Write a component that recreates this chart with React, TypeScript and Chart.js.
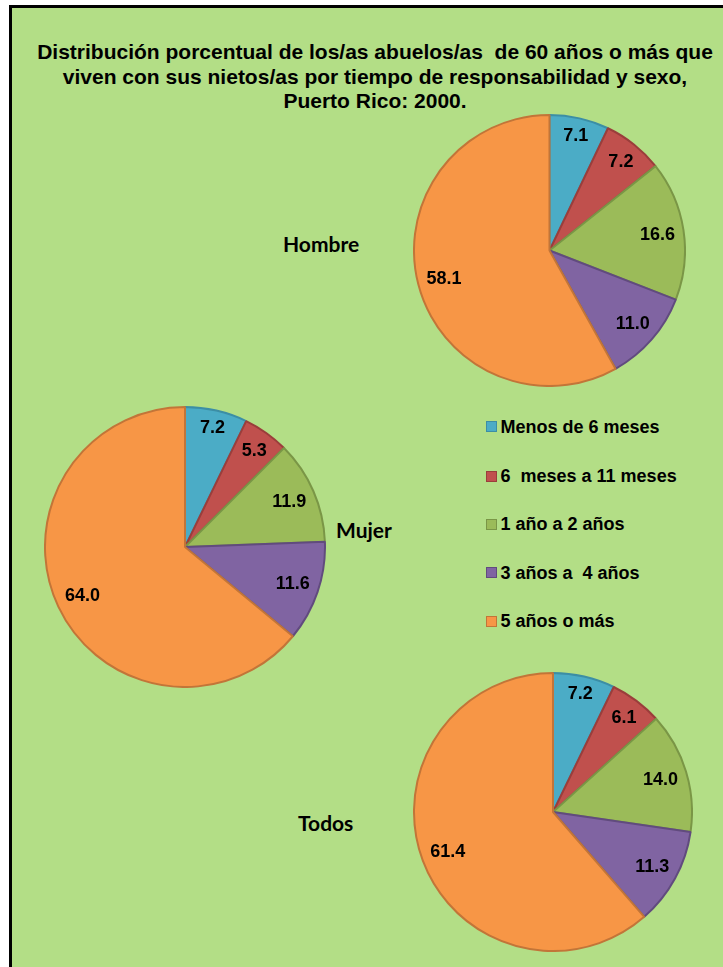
import React, { useEffect, useRef } from "react";
import { Chart, registerables } from "chart.js";

Chart.register(...registerables);

// ---- Data ----
const categories = [
  "Menos de 6 meses",
  "6  meses a 11 meses",
  "1 año a 2 años",
  "3 años a  4 años",
  "5 años o más",
];
const hombreValues = [7.1, 7.2, 16.6, 11.0, 58.1];
const mujerValues = [7.2, 5.3, 11.9, 11.6, 64.0];
const todosValues = [7.2, 6.1, 14.0, 11.3, 61.4];
const seriesNames = ["Hombre", "Mujer", "Todos"];
const titleLines = [
  "Distribución porcentual de los/as abuelos/as  de 60 años o más que",
  "viven con sus nietos/as por tiempo de responsabilidad y sexo,",
  "Puerto Rico: 2000.",
];

// ---- Styles ----
const fillColors = ["#4BACC6", "#C0504D", "#9BBB59", "#8064A2", "#F79646"];
const borderColors = ["#3C8EA5", "#9A3E3B", "#7A9646", "#614B7E", "#C27538"];
const bgGreen = "#B3DE86";
const labelFont = 'bold 18px "Liberation Sans", Arial, sans-serif';

const dataLabelPlugin = {
  id: "dataLabels",
  afterDatasetsDraw(chart: any) {
    const ctx = chart.ctx;
    const meta = chart.getDatasetMeta(0);
    const values = chart.data.datasets[0].data as number[];
    ctx.save();
    ctx.font = labelFont;
    ctx.fillStyle = "#000";
    ctx.textAlign = "center";
    ctx.textBaseline = "middle";
    meta.data.forEach((arc: any, i: number) => {
      const p = arc.getProps(["x", "y", "startAngle", "endAngle", "outerRadius"], true);
      const mid = (p.startAngle + p.endAngle) / 2;
      const txt = values[i].toFixed(1);
      const w = ctx.measureText(txt).width;
      const h = 13;
      const ux = Math.cos(mid);
      const uy = Math.sin(mid);
      const extent = Math.abs(ux) * w / 2 + Math.abs(uy) * h / 2;
      const d = p.outerRadius + 1 - 9 - extent;
      ctx.fillText(txt, p.x + d * ux, p.y + d * uy + 1);
    });
    ctx.restore();
  },
};

function Pie({ values, left, top, size }: { values: number[]; left: number; top: number; size: number }) {
  const ref = useRef<HTMLCanvasElement | null>(null);
  useEffect(() => {
    if (!ref.current) return;
    const chart = new Chart(ref.current, {
      type: "pie",
      data: {
        labels: categories,
        datasets: [
          {
            data: values,
            backgroundColor: fillColors,
            borderColor: borderColors,
            borderWidth: 2,
          },
        ],
      },
      options: {
        responsive: false,
        maintainAspectRatio: false,
        animation: false,
        devicePixelRatio: 1,
        layout: { padding: 0 },
        plugins: {
          legend: { display: false },
          tooltip: { enabled: false },
          title: { display: false },
        },
      },
      plugins: [dataLabelPlugin],
    });
    return () => chart.destroy();
  }, [values]);
  return (
    <canvas
      ref={ref}
      width={size}
      height={size}
      style={{ position: "absolute", left, top, width: size, height: size }}
    />
  );
}

const textBase: React.CSSProperties = {
  position: "absolute",
  lineHeight: 1,
  whiteSpace: "pre",
  color: "#000",
  transform: "translateY(-50%)",
};

export default function App() {
  const titleFont = 'bold 21px "Liberation Sans", Arial, sans-serif';
  const legendFont = 'bold 18px "Liberation Sans", Arial, sans-serif';
  const seriesFont = 'bold 21px Lato, "Open Sans", sans-serif';
  const titleY = [52, 77, 101];
  const legendY = [426.7, 476, 524.3, 572.7, 621];
  const seriesPos = [
    { x: 283, y: 243 },
    { x: 336, y: 529 },
    { x: 298, y: 822 },
  ];
  return (
    <div
      style={{
        position: "fixed",
        left: 0,
        top: 0,
        width: 723,
        height: 967,
        overflow: "hidden",
        background: "#fff",
      }}
    >
      <div
        style={{
          position: "absolute",
          left: 9,
          top: 5,
          width: 800,
          height: 1100,
          boxSizing: "border-box",
          border: "3px solid #000",
          background: bgGreen,
        }}
      />
      {titleLines.map((t, i) => (
        <div
          key={"t" + i}
          style={{ ...textBase, font: titleFont, left: 25, width: 700, textAlign: "center", top: titleY[i] }}
        >
          {t}
        </div>
      ))}
      <Pie values={hombreValues} left={413} top={113.5} size={273} />
      <Pie values={mujerValues} left={43.5} top={405.5} size={282} />
      <Pie values={todosValues} left={412.5} top={672} size={280} />
      {seriesNames.map((s, i) => (
        <div key={"s" + i} style={{ ...textBase, font: seriesFont, left: seriesPos[i].x, top: seriesPos[i].y }}>
          {s}
        </div>
      ))}
      {categories.map((c, i) => (
        <React.Fragment key={"l" + i}>
          <div
            style={{
              position: "absolute",
              left: 485.5,
              top: legendY[i] - 5.5,
              width: 11,
              height: 11,
              boxSizing: "border-box",
              background: fillColors[i],
              border: "1.5px solid " + borderColors[i],
            }}
          />
          <div style={{ ...textBase, font: legendFont, left: 500.5, top: legendY[i] }}>{c}</div>
        </React.Fragment>
      ))}
    </div>
  );
}
